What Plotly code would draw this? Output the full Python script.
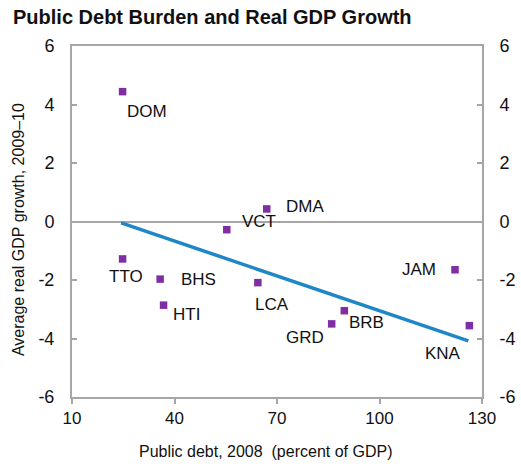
import plotly.graph_objects as go

# Data
countries = ["DOM", "VCT", "DMA", "TTO", "BHS", "HTI", "LCA", "JAM", "BRB", "GRD", "KNA"]
public_debt_2008 = [24.8, 55.3, 67.0, 24.8, 35.8, 36.8, 64.4, 122.1, 89.7, 86.0, 126.3]
gdp_growth_2009_10 = [4.44, -0.28, 0.43, -1.28, -1.97, -2.86, -2.09, -1.65, -3.05, -3.50, -3.56]
trend_x = [24.4, 126.0]
trend_y = [-0.05, -4.08]
x_ticks = [10, 40, 70, 100, 130]
y_ticks = [-6, -4, -2, 0, 2, 4, 6]
y_tick_labels = ["-6", "-4", "-2", "0", "2", "4", "6"]

# Label offsets in pixels (style)
label_shift = {
    "DOM": (24, -20), "VCT": (32, 8), "DMA": (38, 2), "TTO": (3, -18),
    "BHS": (38, 0), "HTI": (23, -9), "LCA": (14, -22), "JAM": (-36, 0),
    "BRB": (22, -12), "GRD": (-27, -14), "KNA": (-26, -28),
}

FONT = "Liberation Sans, Arial, sans-serif"
AX = "#A6A6A6"

fig = go.Figure()
fig.add_trace(go.Scatter(x=trend_x, y=trend_y, mode="lines",
                         line=dict(color="#1F86C8", width=3.5), showlegend=False,
                         hoverinfo="skip"))
fig.add_trace(go.Scatter(x=public_debt_2008, y=gdp_growth_2009_10, mode="markers",
                         marker=dict(symbol="square", size=7.5, color="#7F2FA3"),
                         text=countries, showlegend=False))
# invisible trace for right axis
fig.add_trace(go.Scatter(x=[x_ticks[0]], y=[0], yaxis="y2", mode="markers",
                         marker=dict(opacity=0), showlegend=False, hoverinfo="skip"))

for c, xv, yv in zip(countries, public_debt_2008, gdp_growth_2009_10):
    dx, dy = label_shift[c]
    fig.add_annotation(x=xv, y=yv, xref="x", yref="y", text=c, showarrow=False,
                       xshift=dx, yshift=dy, font=dict(family=FONT, size=17, color="#111111"))

fig.add_annotation(text="Average real GDP growth, 2009\u201310", xref="paper", yref="paper",
                   x=-0.129, y=0.476, textangle=-90, showarrow=False,
                   xanchor="center", yanchor="middle",
                   font=dict(family=FONT, size=16, color="#111111"))
fig.add_annotation(text="Public debt, 2008  (percent of GDP)", xref="paper", yref="paper",
                   x=0.471, y=-0.154, showarrow=False, xanchor="center", yanchor="middle",
                   font=dict(family=FONT, size=16, color="#111111"))

common_y = dict(range=[-6, 6], tickvals=y_ticks, ticktext=y_tick_labels, showgrid=False,
                showline=True, linecolor=AX, linewidth=2, automargin=False,
                ticks="inside", ticklen=5, tickcolor=AX, tickwidth=2,
                ticklabelstandoff=12,
                tickfont=dict(family=FONT, size=18, color="#111111"))

fig.update_layout(
    width=521, height=464,
    margin=dict(l=72, r=39, t=46, b=67, autoexpand=False),
    paper_bgcolor="white", plot_bgcolor="white",
    title=dict(text="<b>Public Debt Burden and Real GDP Growth</b>", xref="container",
               x=0.025, xanchor="left", y=0.963, yanchor="middle",
               font=dict(family=FONT, size=20, color="#111111")),
    xaxis=dict(range=[10, 130], tickvals=x_ticks, showgrid=False, zeroline=False,
               showline=True, linecolor=AX, linewidth=2, mirror=True, automargin=False,
               ticks="outside", ticklen=5, tickcolor=AX, tickwidth=2,
               tickfont=dict(family=FONT, size=17, color="#111111")),
    yaxis=dict(**common_y, zeroline=True, zerolinecolor=AX, zerolinewidth=2),
    yaxis2=dict(**common_y, overlaying="y", side="right", zeroline=False),
)

fig.write_html("out.html", config={"displayModeBar": False},
               post_script="document.body.style.margin='0';document.body.style.overflow='hidden';")
